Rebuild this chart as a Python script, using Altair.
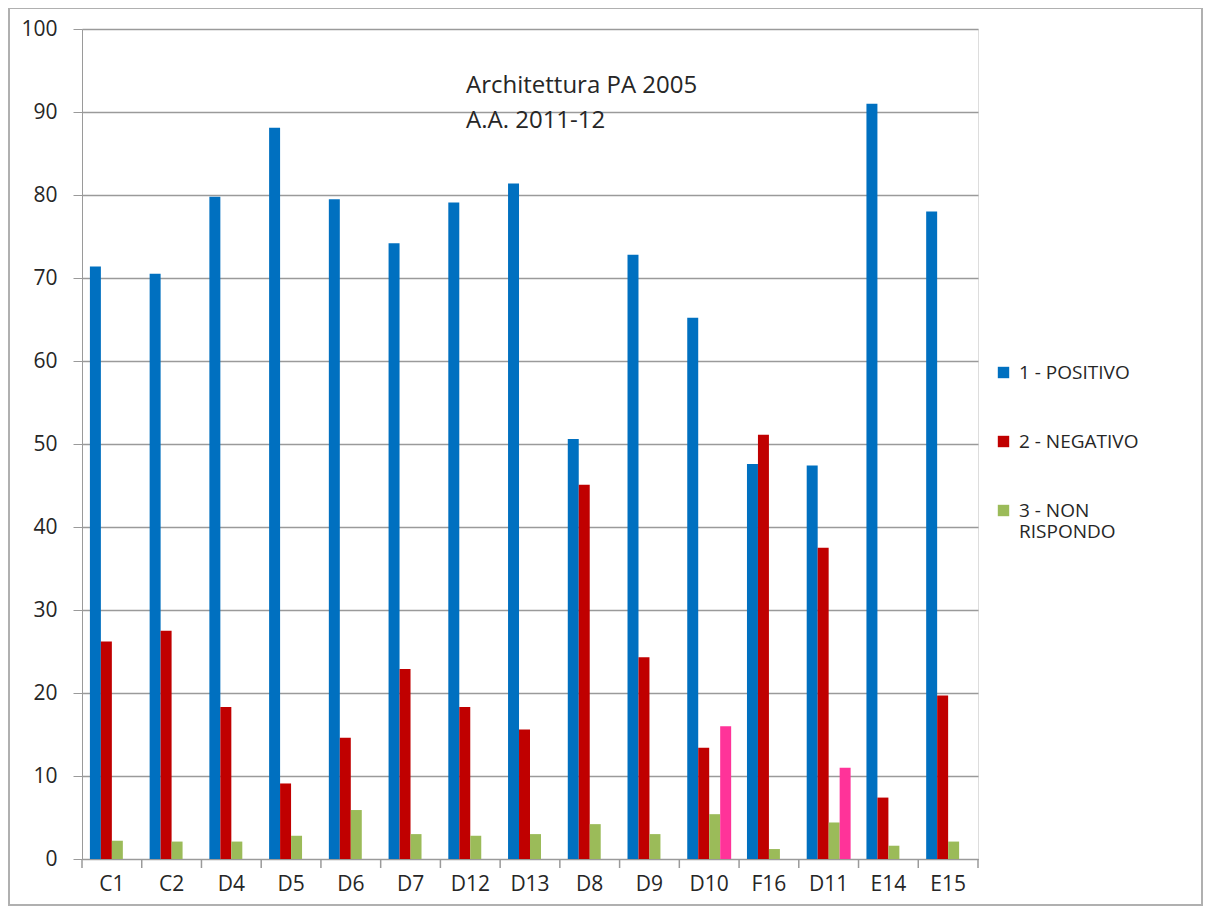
import altair as alt
import pandas as pd

categories = ["C1", "C2", "D4", "D5", "D6", "D7", "D12", "D13", "D8", "D9", "D10", "F16", "D11", "E14", "E15"]
positivo = [71.4, 70.5, 79.8, 88.1, 79.5, 74.2, 79.1, 81.4, 50.6, 72.8, 65.2, 47.6, 47.4, 91.0, 78.0]
negativo = [26.2, 27.5, 18.3, 9.1, 14.6, 22.9, 18.3, 15.6, 45.1, 24.3, 13.4, 51.1, 37.5, 7.4, 19.7]
non_risp = [2.2, 2.1, 2.1, 2.8, 5.9, 3.0, 2.8, 3.0, 4.2, 3.0, 5.4, 1.2, 4.4, 1.6, 2.1]
extra = [0, 0, 0, 0, 0, 0, 0, 0, 0, 0, 16.0, 0, 11.0, 0, 0]

series = ["1 - POSITIVO", "2 - NEGATIVO", "3 - NON RISPONDO", "4"]
colors = ["#0070C0", "#C00000", "#9BBB59", "#FF3399"]
title_text = "Architettura PA 2005\nA.A. 2011-12"

rows = []
for i, c in enumerate(categories):
    for s, vals in zip(series, [positivo, negativo, non_risp, extra]):
        rows.append({"cat": c, "serie": s, "val": vals[i]})
df = pd.DataFrame(rows)

W, H = 896, 830
FONT = "Open Sans"
GRAY = "#9a9a9a"
TXT = "#262626"

bars = alt.Chart(df).mark_bar().encode(
    x=alt.X("cat:N", sort=categories, title=None,
            scale=alt.Scale(paddingInner=0.0, paddingOuter=0.0),
            axis=alt.Axis(labelAngle=0, ticks=False, domain=True, domainColor=GRAY,
                          labelFontSize=21, labelColor=TXT, labelFont=FONT,
                          labelPadding=14, grid=False)),
    xOffset=alt.XOffset("serie:N", sort=series,
                        scale=alt.Scale(paddingOuter=0.72, paddingInner=0.0)),
    y=alt.Y("val:Q", title=None,
            scale=alt.Scale(domain=[0, 100], nice=False),
            axis=alt.Axis(values=list(range(0, 101, 10)), tickSize=9, tickColor=GRAY,
                          domainColor=GRAY, gridColor=GRAY, gridWidth=1.5,
                          labelFontSize=21, labelColor=TXT, labelFont=FONT,
                          labelPadding=16)),
    color=alt.Color("serie:N", sort=series,
                    scale=alt.Scale(domain=series, range=colors),
                    legend=alt.Legend(title=None, values=series[:3], orient="none",
                                      legendX=912, legendY=334,
                                      symbolType="square", symbolSize=130,
                                      symbolStrokeWidth=0,
                                      labelFontSize=19, labelFont=FONT, labelColor=TXT,
                                      rowPadding=49, labelOffset=6, labelLimit=300,
                                      labelExpr="datum.label == '3 - NON RISPONDO' ? ['3 - NON', 'RISPONDO'] : datum.label")),
)

tick_df = pd.DataFrame({"cat": categories})
ticks = alt.Chart(tick_df).mark_rule(color=GRAY, strokeWidth=1.5).encode(
    x=alt.X("cat:N", sort=categories, bandPosition=0),
    y=alt.value(H), y2=alt.value(H + 9),
)
end_tick = alt.Chart(tick_df.head(1)).mark_rule(color=GRAY, strokeWidth=1.5).encode(
    x=alt.value(W), y=alt.value(H), y2=alt.value(H + 9),
)

title = alt.Chart(pd.DataFrame({"t": [title_text]})).mark_text(
    align="left", baseline="top", fontSize=24, lineHeight=35, lineBreak="\n",
    font=FONT, color=TXT).encode(
    x=alt.value(384), y=alt.value(45),
    text="t:N",
)

frame = alt.Chart(tick_df.head(1)).mark_rect(fill=None, stroke="#b0b0b0", strokeWidth=2).encode(
    x=alt.value(-73), x2=alt.value(1120), y=alt.value(-21), y2=alt.value(876),
)

chart = alt.layer(frame, bars, ticks, end_tick, title).properties(
    width=W, height=H,
    autosize=alt.AutoSizeParams(type="none"),
    padding={"left": 74, "top": 21, "right": 226, "bottom": 50},
).configure_view(stroke=None).configure(background="white")

chart.save("out.html", embed_options={"renderer": "svg", "actions": False})
